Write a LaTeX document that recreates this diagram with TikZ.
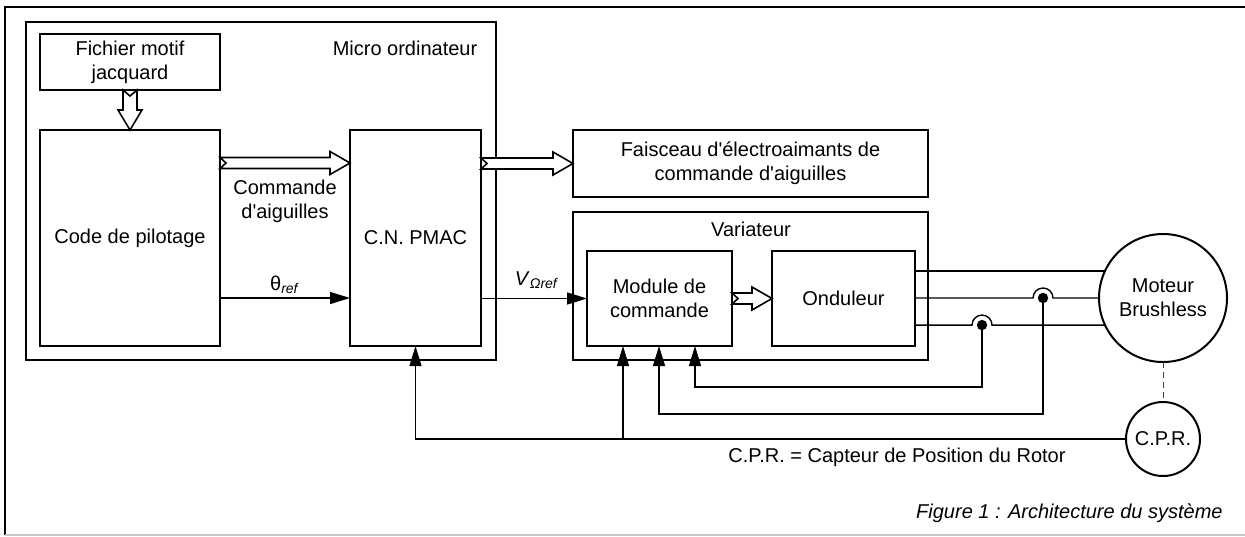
\documentclass[tikz,border=0pt]{standalone}
\usepackage{fontspec}
\setmainfont{Liberation Sans}
\usetikzlibrary{arrows.meta, positioning, calc}

% hollow (outlined) arrows with notched tail
\newcommand{\hollowright}[2]{%
  \draw[hollow] let \p1=(#1), \p2=(#2) in
    (\x1,\y1+2.75pt) -- (\x2-10pt,\y1+2.75pt) -- (\x2-10pt,\y1+5.75pt)
    -- (\x2,\y1) -- (\x2-10pt,\y1-5.75pt) -- (\x2-10pt,\y1-2.75pt)
    -- (\x1,\y1-2.75pt) -- (\x1+3pt,\y1) -- cycle;}
\newcommand{\hollowdown}[2]{%
  \draw[hollow] let \p1=(#1), \p2=(#2) in
    (\x1-3.5pt,\y1) -- (\x1-3.5pt,\y2+10pt) -- (\x1-6pt,\y2+10pt)
    -- (\x1,\y2) -- (\x1+6pt,\y2+10pt) -- (\x1+3.5pt,\y2+10pt)
    -- (\x1+3.5pt,\y1) -- (\x1,\y1-3pt) -- cycle;}

\begin{document}
\begin{tikzpicture}[
  x=0.5pt, y=-0.5pt,
  >={Triangle[length=10pt, width=6pt]},
  blk/.style 2 args={
    draw, line width=1.3pt, minimum width=#1, minimum height=#2,
    inner sep=0pt, outer sep=0pt, align=center
  },
  rond/.style={
    draw, circle, line width=1pt, minimum size=#1,
    inner sep=0pt, outer sep=0pt, align=center
  },
  hollow/.style={draw, line width=0.8pt, fill=white},
  sig/.style={line width=0.7pt},
  fb/.style={line width=0.6pt},
  lbl/.style={align=center, inner sep=1pt},
]

\useasboundingbox (0,0) rectangle (1245,536);

% Frame
\draw[line width=1pt] (5,535) -- (5,7) -- (1245,7);
\draw[gray!45, line width=0.8pt] (5,535) -- (1245,535);

% =============================================
% Micro ordinateur
% =============================================
\node[blk={235pt}{169pt}] (micro) at (261,191) {};
\node[lbl] (lblmicro) at (405,48) {Micro ordinateur};

\node[blk={90pt}{28pt}] (fich) at (130,62) {Fichier motif\\jacquard};
\node[blk={90pt}{108pt}] (code) at (130,238) {Code de pilotage};
\node[blk={65.5pt}{108pt}] (pmac) at (415.5,238) {C.N. PMAC};

\hollowdown{fich.south}{code.north}
\hollowright{[yshift=37.5pt]code.east}{[yshift=37.5pt]code.east -| pmac.west}
\draw[sig, ->] ([yshift=-30pt]code.east) -- ([yshift=-30pt]code.east -| pmac.west);

\node[lbl] (lblcmd) at (285,201) {Commande\\d\textquotesingle aiguilles};
\node[lbl] (lbltheta) at (285,285) {θ\textsubscript{\textit{ref}}};

% =============================================
% Faisceau + Variateur
% =============================================
\node[blk={177.5pt}{33.5pt}] (fais) at (750.5,163.5)
  {Faisceau d\textquotesingle électroaimants de\\commande d\textquotesingle aiguilles};
\node[blk={177.5pt}{74pt}] (var) at (750.5,286) {};
\node[lbl] (lblvar) at (751,229) {Variateur};

\node[blk={72.5pt}{47.5pt}] (mod) at (659.5,298.5) {Module de\\commande};
\node[blk={71.5pt}{47.5pt}] (ond) at (843.5,298.5) {Onduleur};

\hollowright{pmac.east |- fais.west}{fais.west}
\hollowright{mod.east}{ond.west}
\draw[sig, ->] (pmac.east |- mod.west) -- (mod.west);
\node[lbl] (lblv) at (537,280) {\textit{V}\textsubscript{\textit{Ωref}}};

% =============================================
% Moteur + capteurs
% =============================================
\node[rond={64pt}] (motor) at (1163,298) {Moteur\\Brushless};
\node[rond={37pt}] (cpr) at (1163,439) {C.P.R.};
\draw[densely dashed, line width=0.5pt, black!75] (motor.south) -- (cpr.north);

\coordinate (sA) at (motor.west -| 1043,0);
\coordinate (sB) at (motor.205 -| 982,0);

% power lines
\draw[sig] (ond.east |- motor.155) -- (motor.155);
\draw[sig] (ond.east |- sA) -- ([xshift=-5pt]sA)
  arc[start angle=180, end angle=0, radius=5pt] -- (motor.west);
\draw[sig] (ond.east |- sB) -- ([xshift=-5pt]sB)
  arc[start angle=180, end angle=0, radius=5pt] -- (motor.205);
\fill (sA) circle[radius=2.6pt];
\fill (sB) circle[radius=2.6pt];

% feedback loops
\coordinate (in1) at (623,346);
\coordinate (in2) at (659,346);
\coordinate (in3) at (695,346);
\draw[fb, ->] (sB) -- ++(0,62) -| (in3);
\draw[fb, ->] (sA) -- ++(0,116) -| (in2);
\draw[fb, ->] (cpr.west) -| (pmac.south);
\draw[fb, ->] (in1 |- cpr.west) -- (in1);

\node[lbl] (lblcpr) at (897,457) {C.P.R. = Capteur de Position du Rotor};
\node[lbl, font=\itshape, anchor=east] (caption) at (1225,513)
  {Figure 1 : Architecture du système};

\end{tikzpicture}
\end{document}
